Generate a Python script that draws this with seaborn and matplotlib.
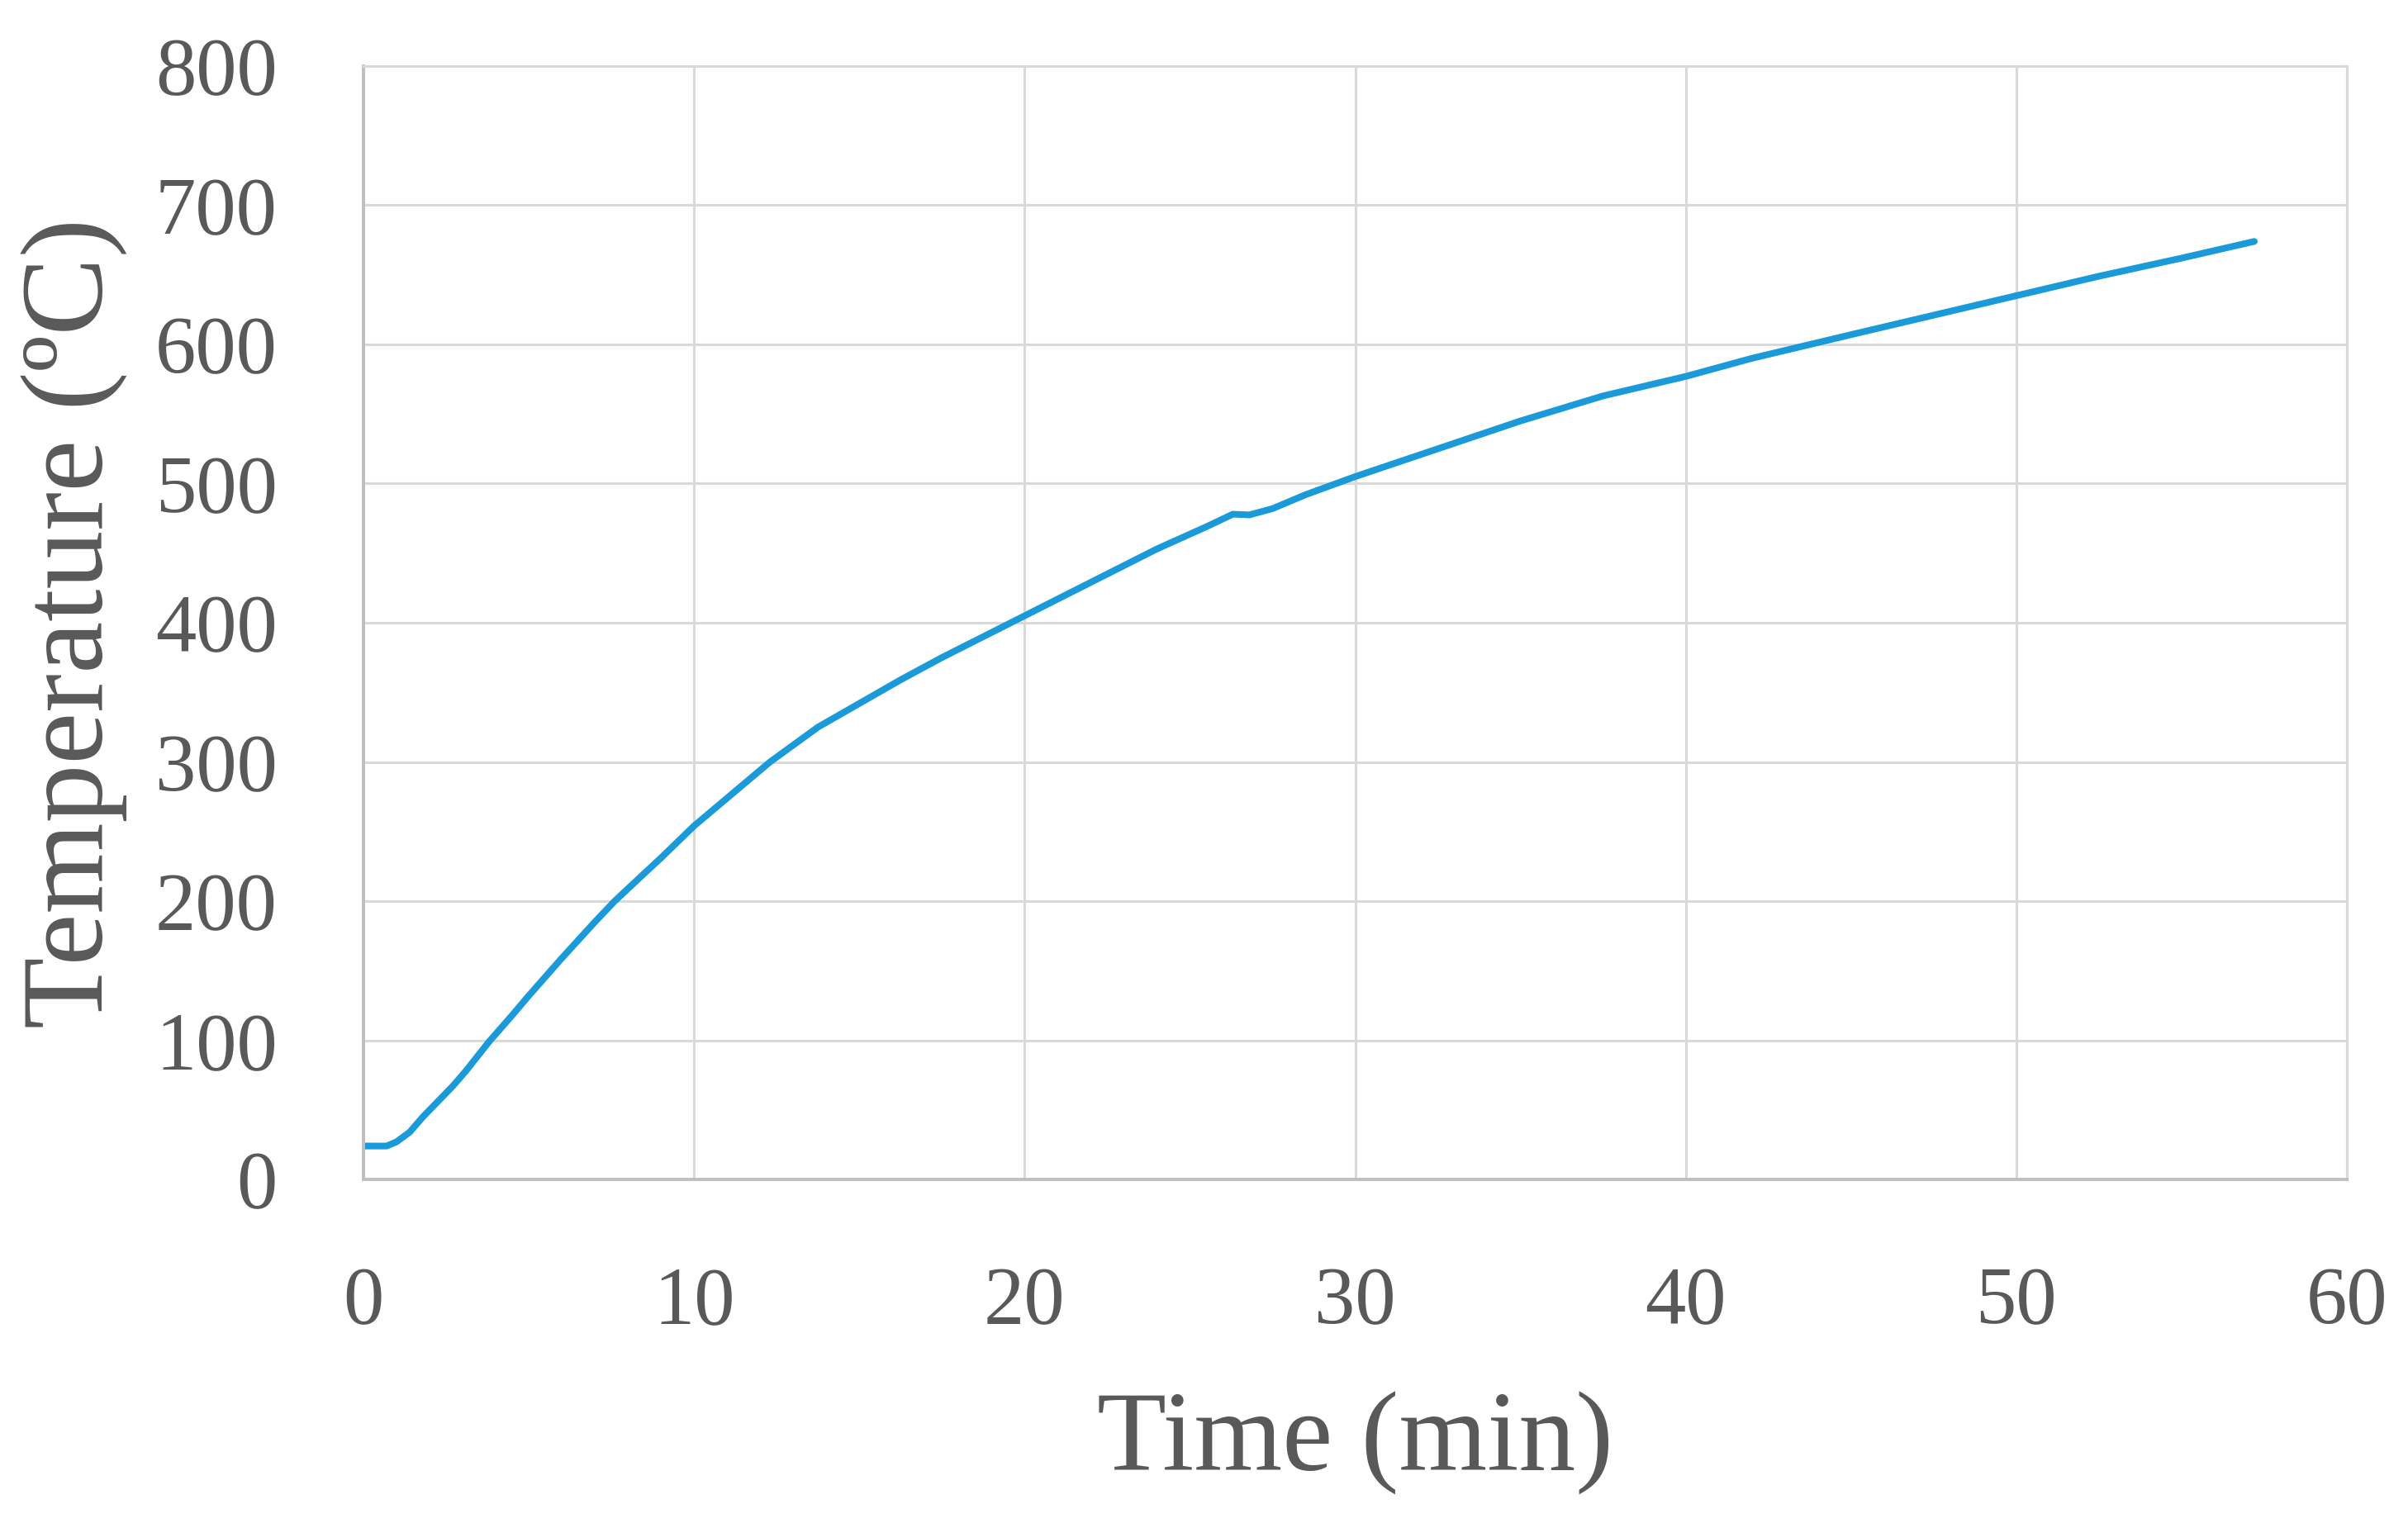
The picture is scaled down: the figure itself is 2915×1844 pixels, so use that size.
import matplotlib
matplotlib.use("Agg")
import matplotlib.pyplot as plt
import seaborn as sns
import pandas as pd

# Data
time_min = [0, 0.7, 1.0, 1.4, 1.8, 2.25, 2.7, 3.1, 3.5, 3.8, 4.5, 5, 6, 7, 7.6, 8.5, 9, 10,
            11, 11.5, 12.3, 13.75, 15, 16.25, 17.5, 20, 22.5, 24, 25.5, 26.3, 26.8, 27.5,
            28.5, 30, 32.5, 35, 37.5, 40, 42, 45, 47.5, 50, 52.5, 55, 57.2]
temperature_c = [24, 24, 27, 34, 45, 56, 67, 78, 90, 99, 118, 132, 159, 185, 200, 220, 231, 254,
                 274, 284, 300, 325, 342, 359, 375, 405, 435, 453, 469, 478, 477.5, 482,
                 492, 505, 525, 545, 563, 577, 590, 607, 621, 635, 649, 662, 674]

x_ticks = [0, 10, 20, 30, 40, 50, 60]
y_ticks = [0, 100, 200, 300, 400, 500, 600, 700, 800]
x_label = "Time (min)"
y_label = "Temperature (ºC)"

df = pd.DataFrame({"time": time_min, "temp": temperature_c})

sns.set_theme(style="white")
plt.rcParams['font.family'] = ['Liberation Serif', 'DejaVu Serif']

TEXT = "#595959"
GRID = "#d9d9d9"
AXIS = "#bfbfbf"

fig = plt.figure(figsize=(29.15, 18.44), dpi=100)
ax = fig.add_axes([440/2915, 1 - 1428/1844, (2841-440)/2915, (1428-80)/1844])

sns.lineplot(data=df, x="time", y="temp", ax=ax, color="#1a9ad8", linewidth=5.8)

ax.set_xlim(0, 60)
ax.set_ylim(0, 800)
ax.set_xticks(x_ticks)
ax.set_yticks(y_ticks)
ax.set_xticklabels([str(v) for v in x_ticks])
ax.set_yticklabels([str(v) for v in y_ticks])

ax.grid(True, color=GRID, linewidth=2.2)
ax.set_axisbelow(True)
for side in ["top", "right"]:
    ax.spines[side].set_visible(True)
    ax.spines[side].set_color(GRID)
    ax.spines[side].set_linewidth(2.2)
for side in ["left", "bottom"]:
    ax.spines[side].set_color(AXIS)
    ax.spines[side].set_linewidth(2.8)

ax.tick_params(axis="both", length=0, labelcolor=TEXT, labelsize=71)
ax.tick_params(axis="y", pad=75)
ax.tick_params(axis="x", pad=76)

ax.set_xlabel(x_label, fontsize=99, color=TEXT, va="center")
ax.set_ylabel(y_label, fontsize=102, color=TEXT, va="center")
ax.xaxis.set_label_coords(0.5, (1428 - 1747) / 1348)
ax.yaxis.set_label_coords((90 - 440) / 2401, 0.5)

fig.savefig("out.png", dpi=100, facecolor="white")
